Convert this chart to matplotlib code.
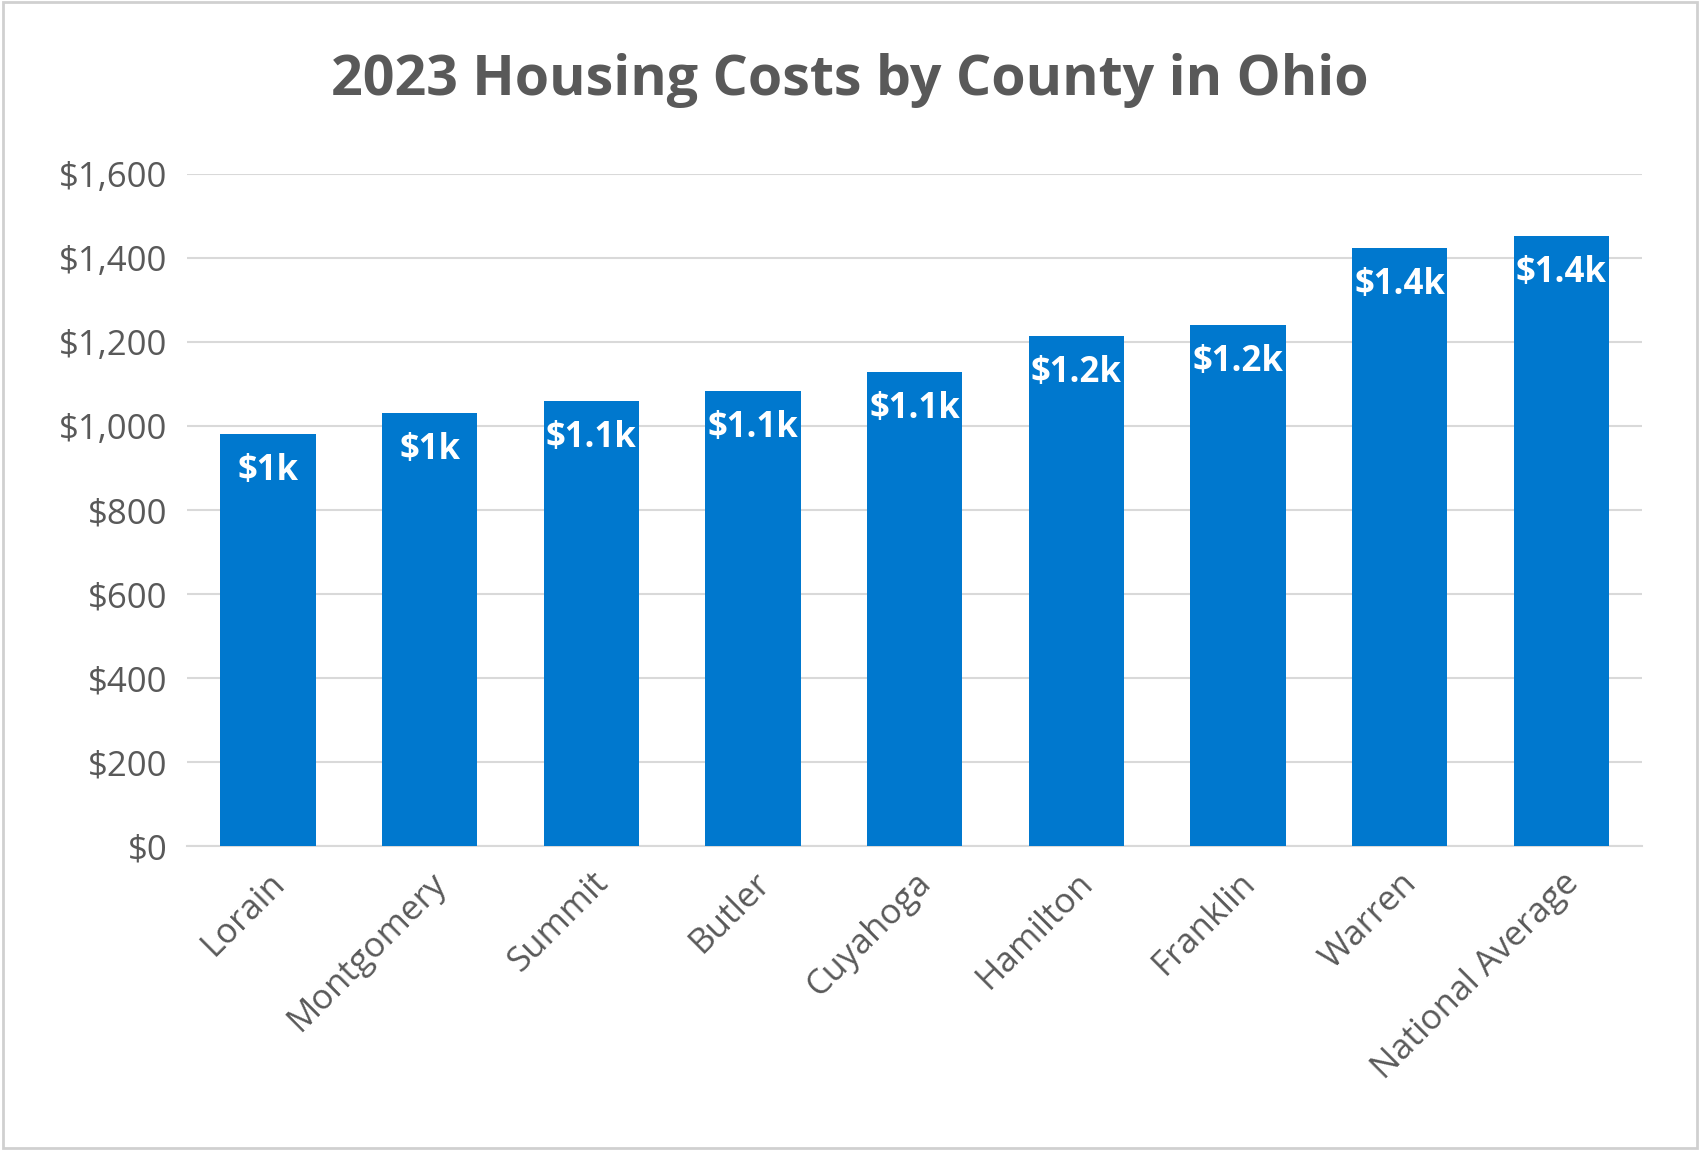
import matplotlib
matplotlib.use("Agg")
import matplotlib.pyplot as plt
import matplotlib.ticker as mtick
from matplotlib.patches import Rectangle
import numpy as np

counties = ["Lorain", "Montgomery", "Summit", "Butler", "Cuyahoga",
            "Hamilton", "Franklin", "Warren", "National Average"]
costs = [980, 1031, 1060, 1083, 1129, 1214, 1240, 1422, 1451]
labels = ["$1k", "$1k", "$1.1k", "$1.1k", "$1.1k", "$1.2k", "$1.2k", "$1.4k", "$1.4k"]

BAR = "#0078CE"
TXT = "#595959"
GRID = "#D9D9D9"

plt.rcParams["font.family"] = ["Open Sans", "DejaVu Sans"]

fig = plt.figure(figsize=(17, 11.5), dpi=100)
fig.patches.append(Rectangle((0.002, 0.002), 0.996, 0.996, transform=fig.transFigure,
                             fill=False, edgecolor="#D0D0D0", linewidth=2))
ax = fig.add_axes([0.11, 0.264, 0.856, 0.585])

x = np.arange(len(counties))
bars = ax.bar(x, costs, 0.59, color=BAR, zorder=3)
for b, lab in zip(bars, labels):
    ax.text(b.get_x() + b.get_width() / 2, b.get_height() - 45, lab,
            ha="center", va="top", color="white", fontsize=25, fontweight="bold")

ax.set_ylim(0, 1600)
ax.set_xlim(-0.5, len(counties) - 0.5)
ax.yaxis.set_major_locator(mtick.MultipleLocator(200))
ax.yaxis.set_major_formatter(mtick.FuncFormatter(lambda v, _: f"${int(v):,}"))
ax.grid(axis="y", color=GRID, linewidth=1.5, zorder=0)
ax.set_axisbelow(True)
for s in ["top", "right", "left"]:
    ax.spines[s].set_visible(False)
ax.spines["bottom"].set_color(GRID)
ax.spines["bottom"].set_linewidth(1.5)
ax.tick_params(axis="both", length=0, labelsize=25, colors=TXT, pad=14)
ax.set_xticks(x)
ax.set_xticklabels(counties, rotation=45, ha="right", rotation_mode="anchor")

fig.text(0.5, 0.93, "2023 Housing Costs by County in Ohio", ha="center", va="center",
         fontsize=40, fontweight="bold", color=TXT)

fig.savefig("out.png", dpi=100, facecolor="white")
